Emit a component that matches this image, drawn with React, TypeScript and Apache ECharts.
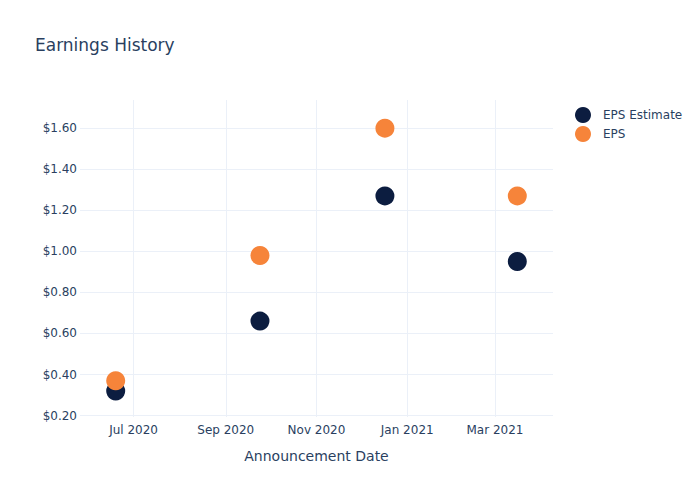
import React, { useEffect, useRef } from "react";
import * as echarts from "echarts";

const dates = ["2020-06-19", "2020-09-24", "2020-12-17", "2021-03-16"];
const epsEstimate = [0.32, 0.66, 1.27, 0.95];
const eps = [0.37, 0.98, 1.6, 1.27];
const xTickDates = ["2020-07-01", "2020-09-01", "2020-11-01", "2021-01-01", "2021-03-01"];
const xTickLabels = ["Jul 2020", "Sep 2020", "Nov 2020", "Jan 2021", "Mar 2021"];
const yTicks = [0.2, 0.4, 0.6, 0.8, 1.0, 1.2, 1.4, 1.6];

const ts = (d: string) => Date.parse(d + "T00:00:00Z");

export default function App() {
  const ref = useRef<HTMLDivElement>(null);
  useEffect(() => {
    const chart = echarts.init(ref.current!, undefined, { renderer: "svg" });
    const font = "DejaVu Sans";
    const txt = "#2a3f5f";
    const grid = "#ebf0f8";
    const tickTs = xTickDates.map(ts);
    chart.setOption({
      animation: false,
      backgroundColor: "#ffffff",
      textStyle: { fontFamily: font },
      title: {
        text: "Earnings History",
        left: 30,
        top: 31,
        textStyle: { fontFamily: font, fontSize: 17, fontWeight: "normal", color: txt },
      },
      legend: {
        orient: "vertical",
        left: 570,
        top: 102,
        icon: "circle",
        itemWidth: 16,
        itemHeight: 16,
        itemGap: 3,
        textStyle: { fontFamily: font, fontSize: 12, color: txt, padding: [0, 0, 0, 7] },
        data: ["EPS Estimate", "EPS"],
      },
      grid: { left: 80, right: 147, top: 100, bottom: 83, containLabel: false },
      xAxis: {
        type: "value",
        min: ts("2020-05-26"),
        max: ts("2021-04-09"),
        name: "Announcement Date",
        nameLocation: "middle",
        nameGap: 32,
        nameTextStyle: { fontFamily: font, fontSize: 14, color: txt },
        axisLine: { show: false },
        axisTick: { show: false, customValues: tickTs },
        axisLabel: {
          customValues: tickTs,
          margin: 7,
          fontFamily: font,
          fontSize: 12,
          color: txt,
          formatter: (v: number) => {
            const i = tickTs.indexOf(v);
            return i >= 0 ? xTickLabels[i] : "";
          },
        },
        splitLine: { show: true, lineStyle: { color: grid, width: 1 } },
      },
      yAxis: {
        type: "value",
        min: 0.193,
        max: 1.737,
        axisLine: { show: false },
        axisTick: { show: false, customValues: yTicks },
        axisLabel: {
          customValues: yTicks,
          margin: 3,
          fontFamily: font,
          fontSize: 12,
          color: txt,
          formatter: (v: number) => "$" + v.toFixed(2),
        },
        splitLine: { show: true, lineStyle: { color: grid, width: 1 } },
      },
      series: [
        {
          name: "EPS Estimate",
          type: "scatter",
          symbol: "circle",
          symbolSize: 19,
          itemStyle: { color: "#0c1d40", opacity: 1 },
          data: dates.map((d, i) => [ts(d), epsEstimate[i]]),
        },
        {
          name: "EPS",
          type: "scatter",
          symbol: "circle",
          symbolSize: 19,
          itemStyle: { color: "#f6843a", opacity: 1 },
          data: dates.map((d, i) => [ts(d), eps[i]]),
        },
      ],
    });
    return () => chart.dispose();
  }, []);
  return <div ref={ref} style={{ width: 700, height: 500, position: "absolute", left: 0, top: 0 }} />;
}
